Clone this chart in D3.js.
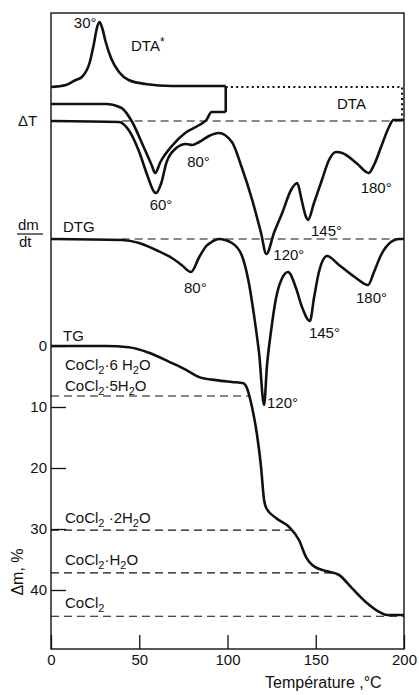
<!DOCTYPE html>
<html>
<head>
<meta charset="utf-8">
<script src="https://cdnjs.cloudflare.com/ajax/libs/d3/7.8.5/d3.min.js"></script>
<style>
    body { margin: 0; background: #fff; }
    svg { display: block; font-family: 'Liberation Sans', Arial, sans-serif; }
    text { fill: #111; }
</style>
</head>
<body>
<svg class="chart" width="419" height="695"></svg>
<script>
// ----- data (temperature in °C) -----
// DTA* (cooling run), deflection from its baseline, arbitrary units
var dtaStarT = [0, 8.5, 14, 17.5, 22, 24.5, 26, 27.5, 29, 31, 34, 38.5, 44, 53.5, 68.5, 99];
var dtaStarV = [0, 1, 3.5, 5, 12.5, 22.5, 29.5, 32.5, 29.5, 22.5, 14.5, 7.5, 3.5, 1.5, 0.5, 0.5];
// first heating up to ~100 °C, joined to DTA*
var heatT = [0, 31, 40, 46, 52, 57, 59, 62, 69, 76, 84, 88, 91, 99];
var heatV = [0, 0, -2, -9, -20.5, -30.5, -34.5, -29, -20.5, -14.5, -10.5, -8, -4, -4];
// DTA
var dtaT = [0, 38.5, 44, 50, 54.5, 58.5, 59.5, 62.5, 65.5, 71, 76.5, 80, 84, 89.5, 95, 102.5, 108, 114, 119, 122,
            126.5, 131, 136, 139.5, 142, 144.5, 145.6, 149, 153.5, 157.5, 161.5, 165, 173, 180, 183, 187, 191.5, 194, 200];
var dtaV = [0, -0.5, -4.5, -15.5, -27, -35.5, -36, -31, -20.5, -13.5, -11.5, -12, -10.5, -7.5, -6, -10.5, -23, -39.5, -56, -66.5,
            -55.5, -46, -34.5, -31, -39.5, -48, -49.5, -41, -29.5, -19.5, -15.5, -16, -21, -26, -22, -13, -3, 0.5, 0.5];
// DTG
var dtgT = [0, 40, 50, 59.5, 68.5, 74, 79.3, 84, 88, 91, 95, 102.5, 108, 112, 115, 118, 120.7, 122.4, 124.6, 127.5,
            131, 134.3, 138.8, 142.2, 146.7, 149, 151.8, 156.4, 163.2, 172.8, 179.6, 183, 187, 192.6, 197, 200];
var dtgV = [0, -0.5, -2, -5.5, -9.5, -13, -16.5, -9, -3.5, -1.5, 0, -2, -8, -21.5, -38, -58, -83, -63, -46.5, -29.5,
            -19.5, -16.5, -24.5, -34, -41, -29.5, -16.5, -8.5, -13, -19.5, -23, -16.5, -8, -1.5, 0, 0];
// TG, mass loss %
var tgT = [0, 31, 44, 55.5, 67, 76.5, 84, 93.5, 102.5, 109, 111, 113, 115, 116.7, 119, 120.7, 122, 127.5,
           135, 140.5, 144.5, 148, 155.8, 163, 170.5, 178.5, 186, 190.5, 200];
var tgV = [0, 0, 0.2, 1.1, 2.6, 3.9, 5.1, 5.6, 5.9, 6.1, 6.9, 8.9, 11.6, 14.5, 19.8, 25.2, 26.6, 28.2,
           29.7, 31.8, 34.6, 35.9, 36.9, 37.5, 39.7, 42, 43.6, 44.1, 44.1];

// hydrate levels on the TG scale
var phaseLabel = ['CoCl2·6 H2O', 'CoCl2·5H2O', 'CoCl2 ·2H2O', 'CoCl2·H2O', 'CoCl2'];
var phaseLoss = [0, 8.2, 30.2, 37.2, 44.3];

// peak labels
var dtaPeakT = [59.5, 80, 122, 145.6, 180];
var dtaPeakLabel = ['60°', '80°', '120°', '145°', '180°'];
var dtgPeakT = [79.3, 120.7, 146.7, 179.6];
var dtgPeakLabel = ['80°', '120°', '145°', '180°'];
var starPeakT = 27.5;
var starPeakLabel = '30°';

var xTicks = [0, 50, 100, 150, 200];
var yTicks = [0, 10, 20, 30, 40];

(function() {

    var p = {};
        p.left = 51;
        p.right = 404;
        p.top = 13;
        p.bottom = 649;
        p.tg = {top: 346, bottom: 590};
        p.base = {star: 87, heat: 104, dta: 121, dtg: 239};
        p.curveWidth = 2.6;
        p.frameWidth = 1.4;
        p.dash = '8,5';
        p.fontSize = 15;
        p.dtaPeakDx = [5, -5, 7, 3, -8];
        p.dtaPeakDy = [17, 22, 6, 16, 20];
        p.dtaPeakAnchor = ['middle', 'start', 'start', 'start', 'start'];
        p.dtgPeakDx = [-7, 3, -1, -12];
        p.dtgPeakDy = [21, 3, 17, 18];
        p.phaseDy = [24, -5, -7, -8, -8];

    var svg = d3.select('.chart');

    var x = d3.scaleLinear().domain([0, 200]).range([p.left, p.right]);
    var yTG = d3.scaleLinear().domain([0, 40]).range([p.tg.top, p.tg.bottom]);
    // signal deflection: 1 unit = 2 px, positive = exothermic (up)
    var ySig = d3.scaleLinear().domain([0, 10]).range([0, -20]);

    var zip = function(ts, vs) {
        return ts.map(function(t, i) { return {t: t, v: vs[i]}; });
    };
    var sigLine = function(base) {
        return d3.line()
            .x(function(d) { return x(d.t); })
            .y(function(d) { return base + ySig(d.v); })
            .curve(d3.curveMonotoneX);
    };
    var valueAt = function(ts, vs, t) {
        return vs[ts.indexOf(t)];
    };

    var addChem = function(sel, s) {
        var runs = [], run = '', sub = false;
        for (var i = 0; i < s.length; i++) {
            var c = s[i];
            var isSub = /\d/.test(c) && /[A-Za-z]/.test(s[i - 1] || '');
            if (isSub !== sub && run) { runs.push({t: run, sub: sub}); run = ''; }
            sub = isSub;
            run += c;
        }
        runs.push({t: run, sub: sub});
        var shift = 0;
        runs.forEach(function(r) {
            var target = r.sub ? 4 : 0;
            sel.append('tspan')
                .text(r.t)
                .attr('dy', target - shift)
                .attr('font-size', r.sub ? 11 : null)
            ;
            shift = target;
        });
    };

    //-----  Frame  -----//
    svg.append('rect')
        .attr('x', p.left)
        .attr('y', p.top)
        .attr('width', p.right - p.left)
        .attr('height', p.bottom - p.top)
        .attr('fill', 'none')
        .attr('stroke', '#111')
        .attr('stroke-width', p.frameWidth)
    ;

    //-----  Axes  -----//
    var xAxis = svg.append('g')
        .attr('transform', 'translate(0,' + p.bottom + ')')
        .call(d3.axisBottom(x)
            .tickValues(xTicks)
            .tickSizeInner(-14)
            .tickSizeOuter(0)
            .tickPadding(5)
            .tickFormat(d3.format('d')))
    ;
    var yAxis = svg.append('g')
        .attr('transform', 'translate(' + p.left + ',0)')
        .call(d3.axisLeft(yTG)
            .tickValues(yTicks)
            .tickSizeInner(-15)
            .tickSizeOuter(0)
            .tickPadding(4))
    ;
    [xAxis, yAxis].forEach(function(a) {
        a.select('.domain').remove();
        a.selectAll('.tick line').attr('stroke', '#111').attr('stroke-width', 1.3);
        a.selectAll('.tick text')
            .attr('font-size', p.fontSize)
            .attr('font-family', null)
            .attr('fill', '#111')
        ;
    });

    //-----  Baselines  -----//
    var dashed = function(t0, t1, y) {
        svg.append('line')
            .attr('x1', x(t0)).attr('x2', x(t1))
            .attr('y1', y).attr('y2', y)
            .attr('stroke', '#111')
            .attr('stroke-width', 1.2)
            .attr('stroke-dasharray', p.dash)
        ;
    };
    dashed(40, 200, p.base.dta);
    dashed(40, 200, p.base.dtg);

    // dotted continuation of the DTA* box
    var tBox = dtaStarT[dtaStarT.length - 1];
    svg.append('path')
        .attr('d', 'M' + x(tBox) + ',' + p.base.star + 'H' + (x(200) - 2) + 'V' + p.base.dta)
        .attr('fill', 'none')
        .attr('stroke', '#111')
        .attr('stroke-width', 2)
        .attr('stroke-dasharray', '2,3.2')
    ;

    // hydrate levels: dashed from axis to where TG meets them
    phaseLoss.forEach(function(lv, i) {
        if (lv > 0) {
            var tEnd = 200;
            for (var k = 1; k < tgV.length; k++) {
                if (tgV[k] >= lv) {
                    tEnd = tgT[k - 1] + (lv - tgV[k - 1]) / (tgV[k] - tgV[k - 1]) * (tgT[k] - tgT[k - 1]);
                    break;
                }
            }
            dashed(0, tEnd, yTG(lv));
        }
        var t = svg.append('text')
            .attr('x', 65)
            .attr('y', yTG(lv) + p.phaseDy[i])
            .attr('font-size', p.fontSize)
        ;
        addChem(t, phaseLabel[i]);
    });

    //-----  Curves  -----//
    var curve = function(d, line) {
        svg.append('path')
            .datum(d)
            .attr('d', line)
            .attr('fill', 'none')
            .attr('stroke', '#111')
            .attr('stroke-width', p.curveWidth)
            .attr('stroke-linejoin', 'round')
        ;
    };
    curve(zip(dtaStarT, dtaStarV), sigLine(p.base.star));
    curve(zip(heatT, heatV), sigLine(p.base.heat));
    // box edge joining DTA* and the heating run
    svg.append('line')
        .attr('x1', x(tBox)).attr('x2', x(heatT[heatT.length - 1]))
        .attr('y1', p.base.star + ySig(dtaStarV[dtaStarV.length - 1]))
        .attr('y2', p.base.heat + ySig(heatV[heatV.length - 1]))
        .attr('stroke', '#111')
        .attr('stroke-width', p.curveWidth)
    ;
    curve(zip(dtaT, dtaV), sigLine(p.base.dta));
    curve(zip(dtgT, dtgV), sigLine(p.base.dtg));
    curve(zip(tgT, tgV), d3.line()
        .x(function(d) { return x(d.t); })
        .y(function(d) { return yTG(d.v); })
        .curve(d3.curveMonotoneX));

    //-----  Peak labels  -----//
    var label = function(txt, px, py, anchor) {
        return svg.append('text')
            .text(txt)
            .attr('x', px)
            .attr('y', py)
            .attr('font-size', p.fontSize)
            .attr('text-anchor', anchor || 'start')
        ;
    };
    label(starPeakLabel, x(starPeakT) - 3,
        p.base.star + ySig(valueAt(dtaStarT, dtaStarV, starPeakT)) + 6, 'end');
    dtaPeakT.forEach(function(t, i) {
        label(dtaPeakLabel[i], x(t) + p.dtaPeakDx[i],
            p.base.dta + ySig(valueAt(dtaT, dtaV, t)) + p.dtaPeakDy[i], p.dtaPeakAnchor[i]);
    });
    dtgPeakT.forEach(function(t, i) {
        label(dtgPeakLabel[i], x(t) + p.dtgPeakDx[i],
            p.base.dtg + ySig(valueAt(dtgT, dtgV, t)) + p.dtgPeakDy[i]);
    });

    //-----  Curve names and axis titles  -----//
    var star = label('DTA', 131, 51);
    star.append('tspan').text('*').attr('dy', -5).attr('font-size', 12);
    label('DTA', 337, 109);
    label('DTG', 63, 232);
    label('TG', 63, 341);
    label('ΔT', 18, 126);
    label('dm', 18, 230);
    label('dt', 19, 247);
    svg.append('line')
        .attr('x1', 17).attr('x2', 43)
        .attr('y1', 234).attr('y2', 234)
        .attr('stroke', '#111')
        .attr('stroke-width', 1.2)
    ;
    label('Température ,°C', 265, 688).attr('font-size', 16);
    label('Δm, %', 0, 0, 'middle')
        .attr('font-size', 16)
        .attr('transform', 'translate(23,572) rotate(-90)')
    ;
})();
</script>
</body>
</html>
